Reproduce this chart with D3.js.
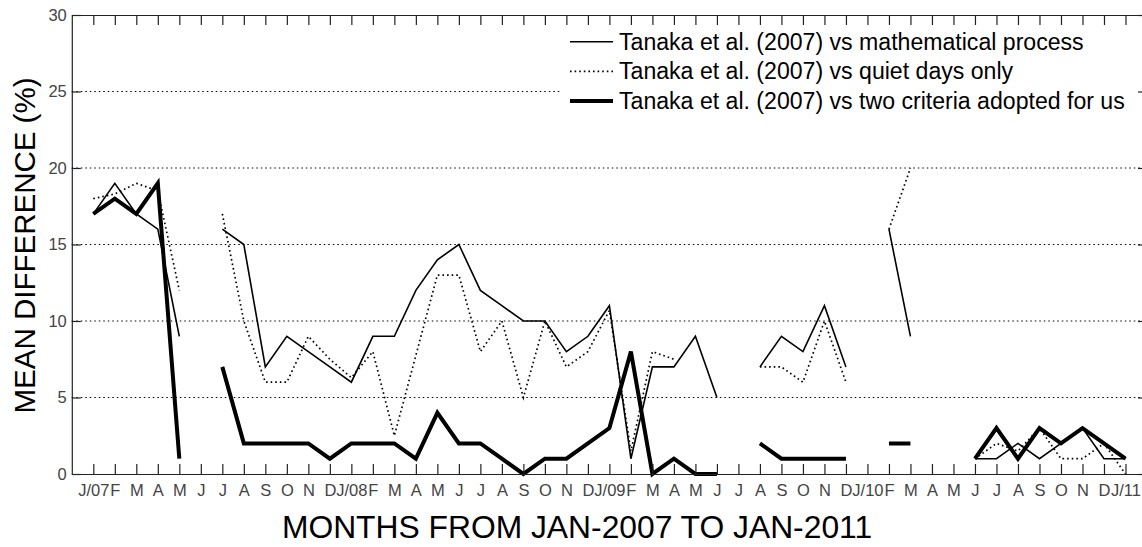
<!DOCTYPE html>
<html>
<head>
<meta charset="utf-8">
<script src="https://cdn.jsdelivr.net/npm/d3@7"></script>
<style>
  body { margin: 0; background: #fff; }
  text { font-family: "Liberation Sans", Arial, sans-serif; }
</style>
</head>
<body>
<svg id="canvas"></svg>
<script>
let months = ["J/07","F","M","A","M","J","J","A","S","O","N","D",
              "J/08","F","M","A","M","J","J","A","S","O","N","D",
              "J/09","F","M","A","M","J","J","A","S","O","N","D",
              "J/10","F","M","A","M","J","J","A","S","O","N","D","J/11"]

let mathProcess = [17,19,17,16,9,null,16,15,7,9,8,7,6,9,9,12,14,15,12,11,10,10,8,9,11,1,7,7,9,5,
                   null,7,9,8,11,7,null,16,9,null,null,1,1,2,1,2,3,1,1]
let quietDays = [18,18.3,19,18.5,12,null,17,10,6,6,9,7.5,6.3,8,2.5,7.75,13,13,8,10,5,10,7,8,10.7,1.5,8,7.5,
                 null,null,null,7,7,6,10,6,null,16,20,null,null,1,2,1.5,3,1,1,2,0]
let twoCriteria = [17,18,17,19,1,null,7,2,2,2,2,1,2,2,2,1,4,2,2,1,0,1,1,2,3,8,0,1,0,0,
                   null,2,1,1,1,1,null,2,2,null,null,1,3,1,3,2,3,2,1]

let yTicks = [0,5,10,15,20,25,30]
let gridValues = [5,10,15,20,25]

let legendLabels = ["Tanaka et al. (2007) vs mathematical process",
                    "Tanaka et al. (2007) vs quiet days only",
                    "Tanaka et al. (2007) vs two criteria adopted for us"]

let width = 1142
let height = 547
let plotLeft = 71.8
let plotRight = 1147
let plotTop = 15
let plotBottom = 474

let svg = d3.select("#canvas")
    .attr("width", width)
    .attr("height", height)

svg.append("rect").attr("width", width).attr("height", height).attr("fill", "#fff")

let xScale = d3.scaleLinear().domain([-1, 49]).range([plotLeft, plotRight])
let yScale = d3.scaleLinear().domain([0, 30]).range([plotBottom, plotTop])

let series = [
    {values: mathProcess, width: 1.6, dash: null},
    {values: quietDays, width: 1.7, dash: "1.6,3"},
    {values: twoCriteria, width: 4, dash: null}
]

// dotted grid
svg.append("g")
    .selectAll("line")
    .data(gridValues)
    .enter()
    .append("line")
    .attr("x1", plotLeft)
    .attr("x2", plotRight)
    .attr("y1", (d) => yScale(d))
    .attr("y2", (d) => yScale(d))
    .attr("stroke", "#000")
    .attr("stroke-width", 1)
    .attr("stroke-dasharray", "1.5,3")

// legend background hides the grid behind it
svg.append("rect")
    .attr("x", 562)
    .attr("y", 20)
    .attr("width", 590)
    .attr("height", 96)
    .attr("fill", "#fff")

let line = d3.line()
    .defined((d) => d != null)
    .x((d, i) => xScale(i))
    .y((d) => yScale(d))

svg.append("g")
    .selectAll("path")
    .data(series)
    .enter()
    .append("path")
    .attr("d", (d) => line(d.values))
    .attr("fill", "none")
    .attr("stroke", "#000")
    .attr("stroke-width", (d) => d.width)
    .attr("stroke-dasharray", (d) => d.dash)
    .attr("stroke-linejoin", "miter")

let xAxis = d3.axisBottom(xScale)
    .tickValues(d3.range(months.length))
    .tickSizeInner(-10)
    .tickSizeOuter(0)
    .tickPadding(10)
    .tickFormat((i) => months[i])

let xTop = d3.axisTop(xScale)
    .tickValues(d3.range(months.length))
    .tickSizeInner(-10)
    .tickSizeOuter(0)
    .tickFormat("")

let yAxis = d3.axisLeft(yScale)
    .tickValues(yTicks)
    .tickSizeInner(-9)
    .tickSizeOuter(0)
    .tickPadding(5)

let yRight = d3.axisRight(yScale)
    .tickValues(yTicks)
    .tickSizeInner(-9)
    .tickSizeOuter(0)
    .tickFormat("")

let styleAxis = (g) => {
    g.selectAll("path").attr("stroke", "#222").attr("stroke-width", 1.2)
    g.selectAll("line").attr("stroke", "#222").attr("stroke-width", 1.2)
    g.selectAll("text")
        .attr("fill", "#444")
        .style("font-family", "'Liberation Sans', Arial, sans-serif")
        .style("font-size", "16.5px")
}

svg.append("g")
    .attr("transform", "translate(0," + plotBottom + ")")
    .call(xAxis)
    .call(styleAxis)

svg.append("g")
    .attr("transform", "translate(0," + plotTop + ")")
    .call(xTop)
    .call(styleAxis)

svg.append("g")
    .attr("transform", "translate(" + plotLeft + ",0)")
    .call(yAxis)
    .call(styleAxis)

svg.append("g")
    .attr("transform", "translate(" + plotRight + ",0)")
    .call(yRight)
    .call(styleAxis)

// legend
let legend = svg.append("g")
    .selectAll("g")
    .data(series)
    .enter()
    .append("g")
    .attr("transform", (d, i) => "translate(0," + (41.7 + i * 29.7) + ")")

legend.append("line")
    .attr("x1", 570)
    .attr("x2", 613)
    .attr("stroke", "#000")
    .attr("stroke-width", (d) => d.width)
    .attr("stroke-dasharray", (d) => d.dash)

legend.append("text")
    .attr("x", 619)
    .attr("y", 8)
    .attr("font-size", "23.1px")
    .attr("fill", "#000")
    .text((d, i) => legendLabels[i])

svg.append("text")
    .attr("transform", "translate(35,245.5) rotate(-90)")
    .attr("text-anchor", "middle")
    .attr("font-size", "29.5px")
    .attr("fill", "#000")
    .text("MEAN DIFFERENCE (%)")

svg.append("text")
    .attr("x", 577)
    .attr("y", 538)
    .attr("text-anchor", "middle")
    .attr("font-size", "31.8px")
    .attr("fill", "#000")
    .text("MONTHS FROM JAN-2007 TO JAN-2011")
</script>
</body>
</html>
